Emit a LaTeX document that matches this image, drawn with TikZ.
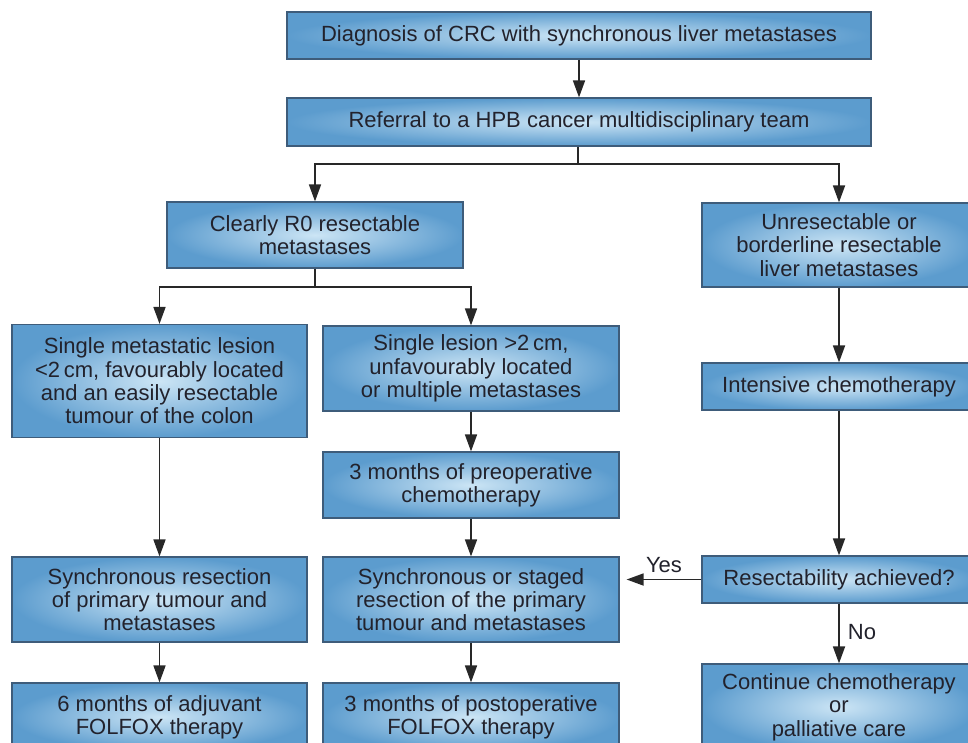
\documentclass[tikz,border=0pt]{standalone}
\usepackage{fontspec}
\setmainfont{Liberation Sans}
\usetikzlibrary{arrows.meta}
\definecolor{boxedge}{RGB}{92,156,206}
\definecolor{boxmid}{RGB}{204,229,245}
\definecolor{boxline}{RGB}{62,92,122}
\definecolor{txtcol}{RGB}{34,34,44}
\definecolor{conncol}{RGB}{40,40,40}
\tikzset{
  fbox/.style={draw=boxline, line width=1.2pt, inner color=boxmid, outer color=boxedge,
    rectangle, align=center, inner sep=0pt, text=txtcol,
    font=\fontsize{22}{23.3}\selectfont},
  conn/.style={draw=conncol, line width=1.7pt, -{Triangle[width=12pt,length=17pt]}},
  plain/.style={draw=conncol, line width=1.7pt},
  lbl/.style={text=txtcol, inner sep=0pt, font=\fontsize{22}{23.3}\selectfont}
}
\begin{document}
\begin{tikzpicture}[x=1pt,y=-1pt]
\useasboundingbox (0,0) rectangle (968,742);
\clip (0,0) rectangle (968,742);
\fill[white] (0,0) rectangle (968,742);

\node[fbox, minimum width=584pt, minimum height=47pt] (diag) at (579,35.5) {Diagnosis of CRC with synchronous liver metastases};
\node[fbox, minimum width=584pt, minimum height=48pt] (ref) at (579,122) {Referral to a HPB cancer multidisciplinary team};
\node[fbox, minimum width=296pt, minimum height=66pt] (r0) at (315,235) {Clearly R0 resectable\\metastases};
\node[fbox, minimum width=274pt, minimum height=84pt] (unres) at (839,245) {Unresectable or\\borderline resectable\\liver metastases};
\node[fbox, minimum width=295pt, minimum height=113pt] (single1) at (159.5,381) {Single metastatic lesion\\<2\,cm, favourably located\\and an easily resectable\\tumour of the colon};
\node[fbox, minimum width=296pt, minimum height=85pt] (single2) at (471,368.5) {Single lesion >2\,cm,\\unfavourably located\\or multiple metastases};
\node[fbox, minimum width=274pt, minimum height=47pt] (intens) at (839,386.5) {Intensive chemotherapy};
\node[fbox, minimum width=296pt, minimum height=66pt] (preop) at (471,485) {3 months of preoperative\\chemotherapy};
\node[fbox, minimum width=295pt, minimum height=85pt] (sync1) at (159.5,599.5) {Synchronous resection\\of primary tumour and\\metastases};
\node[fbox, minimum width=296pt, minimum height=85pt] (sync2) at (471,599.5) {Synchronous or staged\\resection of the primary\\tumour and metastases};
\node[fbox, minimum width=274pt, minimum height=47pt] (resect) at (839,579.5) {Resectability achieved?};
\node[fbox, minimum width=295pt, minimum height=68pt] (adj) at (159.5,717) {6 months of adjuvant\\FOLFOX therapy};
\node[fbox, minimum width=296pt, minimum height=68pt] (post) at (471,717) {3 months of postoperative\\FOLFOX therapy};
\node[fbox, minimum width=274pt, minimum height=86pt] (cont) at (839,707) {Continue chemotherapy\\or\\palliative care};

\coordinate (s1) at (578,164);
\coordinate (s2) at (315,287);

\draw[conn] (diag) -- (ref);
\draw[plain] (ref.south -| s1) -- (s1);
\draw[conn] (s1) -| (r0.north);
\draw[conn] (s1) -| (unres.north);
\draw[plain] (r0.south) -- (s2);
\draw[conn] (s2) -| (single1.north);
\draw[conn] (s2) -| (single2.north);
\draw[conn] (single1) -- (sync1);
\draw[conn] (single2) -- (preop);
\draw[conn] (preop) -- (sync2);
\draw[conn] (sync1) -- (adj);
\draw[conn] (sync2) -- (post);
\draw[conn] (unres) -- (intens);
\draw[conn] (intens) -- (resect);
\draw[conn] (resect) -- (cont);
\draw[conn, shorten >=7pt] (resect.west) -- (resect.west -| sync2.east);

\node[lbl] (yes) at (664,565) {Yes};
\node[lbl] (no) at (862,632) {No};
\end{tikzpicture}
\end{document}
